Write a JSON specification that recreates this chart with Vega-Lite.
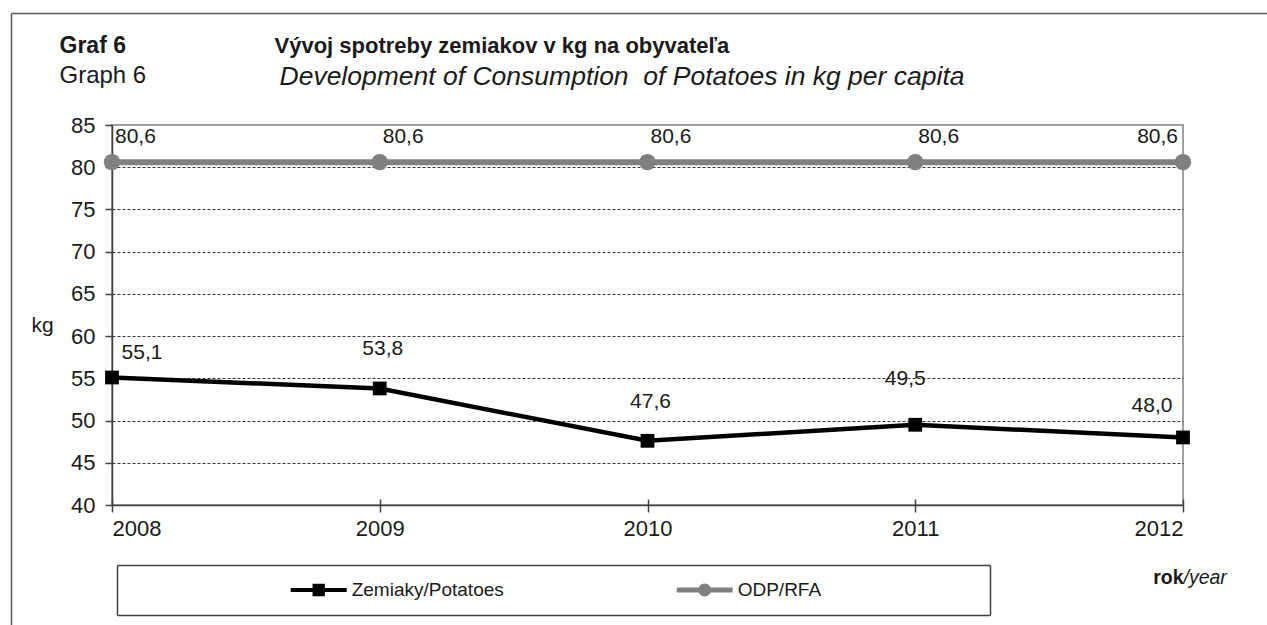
{
  "$schema": "https://vega.github.io/schema/vega-lite/v6.json",
  "width": 1071,
  "height": 380,
  "autosize": {"type": "none"},
  "padding": {"left": 112, "top": 125, "right": 84, "bottom": 120},
  "background": "white",
  "config": {
    "font": "Liberation Sans",
    "view": {"stroke": "#a0a0a0", "strokeWidth": 2},
    "locale": {"number": {"decimal": ",", "thousands": " ", "grouping": [3], "currency": ["", " €"]}},
    "axis": {
      "labelFont": "Liberation Sans",
      "titleFont": "Liberation Sans",
      "labelColor": "#1a1a1a",
      "titleColor": "#1a1a1a",
      "grid": false,
      "labels": false,
      "ticks": false,
      "domain": false,
      "titleAngle": 0,
      "titleAlign": "left",
      "titleBaseline": "alphabetic",
      "titleFontWeight": "normal",
      "titlePadding": 0
    },
    "legend": {"labelFont": "Liberation Sans"}
  },
  "data": {
    "values": [
      {"year": 2008, "series": "Zemiaky/Potatoes", "value": 55.1},
      {"year": 2009, "series": "Zemiaky/Potatoes", "value": 53.8},
      {"year": 2010, "series": "Zemiaky/Potatoes", "value": 47.6},
      {"year": 2011, "series": "Zemiaky/Potatoes", "value": 49.5},
      {"year": 2012, "series": "Zemiaky/Potatoes", "value": 48.0},
      {"year": 2008, "series": "ODP/RFA", "value": 80.6},
      {"year": 2009, "series": "ODP/RFA", "value": 80.6},
      {"year": 2010, "series": "ODP/RFA", "value": 80.6},
      {"year": 2011, "series": "ODP/RFA", "value": 80.6},
      {"year": 2012, "series": "ODP/RFA", "value": 80.6}
    ]
  },
  "layer": [
    {
      "transform": [{"filter": "datum.series == 'ODP/RFA'"}],
      "mark": {"type": "line", "strokeWidth": 6},
      "encoding": {
        "x": {"field": "year", "type": "quantitative", "scale": {"domain": [2008, 2012], "nice": false, "zero": false},
          "axis": {"orient": "bottom", "position": -101, "offset": -492, "values": [2008], "ticks": true, "tickSize": 625, "tickColor": "#595959", "tickWidth": 1.5,
            "title": "Vývoj spotreby zemiakov v kg na obyvateľa", "titleFontWeight": "bold", "titleFontSize": 22, "titleX": 263, "titleY": 39}},
        "y": {"field": "value", "type": "quantitative", "scale": {"domain": [40, 85], "nice": false, "zero": false},
          "axis": {"orient": "left", "position": -112, "offset": -1160, "values": [85], "ticks": true, "tickSize": 1261, "tickColor": "#595959", "tickWidth": 1.5,
            "title": "Graph 6", "titleFontSize": 24, "titleX": -1213, "titleY": 69}},
        "color": {"field": "series", "type": "nominal",
          "scale": {"domain": ["Zemiaky/Potatoes", "ODP/RFA"], "range": ["#000000", "#808080"]},
          "legend": {
            "orient": "none", "legendX": 178.7, "legendY": 437, "direction": "horizontal", "title": null,
            "padding": 0, "columnPadding": 172, "labelFontSize": 19, "labelColor": "#1a1a1a", "labelOffset": 5,
            "symbolSize": 3136, "symbolStrokeWidth": 0, "labelLimit": 400,
            "encode": {"symbols": {"update": {
              "shape": {"signal": "datum.value == 'ODP/RFA' ? 'M-1,-0.09L1,-0.09L1,0.09L-1,0.09Z M-0.23,0A0.23,0.23 0 1,1 0.23,0A0.23,0.23 0 1,1 -0.23,0Z' : 'M-1,-0.075L1,-0.075L1,0.075L-1,0.075Z M-0.22,-0.22L0.22,-0.22L0.22,0.22L-0.22,0.22Z'"},
              "fill": {"signal": "datum.value == 'ODP/RFA' ? '#808080' : '#000000'"},
              "fillOpacity": {"value": 1},
              "opacity": {"value": 1},
              "stroke": {"value": "transparent"},
              "size": {"value": 3136}
            }}}
          }}
      }
    },
    {
      "transform": [{"filter": "datum.series == 'ODP/RFA'"}],
      "mark": {"type": "point", "shape": "circle", "filled": true, "size": 270, "opacity": 1},
      "encoding": {
        "x": {"field": "year", "type": "quantitative", "scale": {"domain": [2008, 2012], "nice": false, "zero": false},
          "axis": {"orient": "bottom", "offset": 60, "values": [2008.01867, 2011.27918], "ticks": true, "tickSize": 50, "tickColor": "#404040", "tickWidth": 1.5,
            "title": "Development of Consumption\u00a0 of Potatoes in kg per capita", "titleFontStyle": "italic", "titleFontSize": 26.5, "titleX": 167, "titleY": -481}},
        "y": {"field": "value", "type": "quantitative", "scale": {"domain": [40, 85], "nice": false, "zero": false},
          "axis": {"orient": "left", "position": 440, "offset": -878, "values": [85, 79.0789], "ticks": true, "tickSize": 873, "tickColor": "#404040", "tickWidth": 1.5, "title": null}},
        "color": {"field": "series", "type": "nominal", "scale": {"domain": ["Zemiaky/Potatoes", "ODP/RFA"], "range": ["#000000", "#808080"]}}
      }
    },
    {
      "transform": [{"filter": "datum.series == 'Zemiaky/Potatoes'"}],
      "mark": {"type": "line", "strokeWidth": 4.5},
      "encoding": {
        "x": {"field": "year", "type": "quantitative", "scale": {"domain": [2008, 2012], "nice": false, "zero": false},
          "axis": {"orient": "bottom", "values": [2008, 2009, 2010, 2011, 2012], "format": "d", "labels": true, "labelFontSize": 22, "labelPadding": 6,
            "ticks": true, "tickSize": 7, "tickColor": "#404040", "tickWidth": 1.5, "domain": true, "domainColor": "#404040", "domainWidth": 1.5,
            "title": "rok", "titleFontWeight": "bold", "titleFontSize": 19.5, "titleX": 1071, "titleY": 78, "titleAlign": "right"}},
        "y": {"field": "value", "type": "quantitative", "scale": {"domain": [40, 85], "nice": false, "zero": false},
          "axis": {"orient": "left", "values": [40, 45, 50, 55, 60, 65, 70, 75, 80, 85], "labels": true, "labelFontSize": 22, "labelPadding": 10,
            "ticks": true, "tickSize": 7, "tickColor": "#404040", "tickWidth": 1.5, "domain": true, "domainColor": "#404040", "domainWidth": 1.5,
            "title": "kg", "titleFontSize": 21, "titleX": -70, "titleY": 200, "titleAlign": "center", "titleBaseline": "middle"}},
        "color": {"field": "series", "type": "nominal", "scale": {"domain": ["Zemiaky/Potatoes", "ODP/RFA"], "range": ["#000000", "#808080"]}}
      }
    },
    {
      "transform": [{"filter": "datum.series == 'Zemiaky/Potatoes'"}],
      "mark": {"type": "point", "shape": "square", "filled": true, "size": 190, "opacity": 1},
      "encoding": {
        "x": {"field": "year", "type": "quantitative", "scale": {"domain": [2008, 2012], "nice": false, "zero": false},
          "axis": {"orient": "top", "offset": -380, "values": [2008, 2009, 2010, 2011, 2012], "ticks": true, "tickSize": 6, "tickColor": "#404040", "tickWidth": 1.5,
            "title": "/year", "titleFontStyle": "italic", "titleFontSize": 19.5, "titleX": 1071, "titleY": 78, "titleAlign": "left"}},
        "y": {"field": "value", "type": "quantitative", "scale": {"domain": [40, 85], "nice": false, "zero": false},
          "axis": {"orient": "left", "values": [45, 50, 55, 60, 65, 70, 75, 80], "grid": true, "gridColor": "#333333", "gridDash": [3, 2], "gridWidth": 1,
            "title": "Graf 6", "titleFontWeight": "bold", "titleFontSize": 23, "titleX": -53, "titleY": -73}},
        "color": {"field": "series", "type": "nominal", "scale": {"domain": ["Zemiaky/Potatoes", "ODP/RFA"], "range": ["#000000", "#808080"]}}
      }
    },
    {
      "transform": [{"filter": "datum.series == 'Zemiaky/Potatoes'"}],
      "mark": {"type": "text", "fontSize": 21, "fill": "#1a1a1a", "baseline": "middle", "align": "center",
        "dx": {"expr": "datum.year == 2008 ? 30 : datum.year == 2012 ? -31 : datum.year == 2011 ? -10 : 3"},
        "dy": {"expr": "datum.year == 2008 ? -24 : datum.year == 2012 ? -31 : datum.year == 2011 ? -46 : -39"}},
      "encoding": {
        "x": {"field": "year", "type": "quantitative", "axis": null},
        "y": {"field": "value", "type": "quantitative", "axis": null},
        "text": {"field": "value", "type": "quantitative", "format": ".1f"}
      }
    },
    {
      "transform": [{"filter": "datum.series == 'ODP/RFA'"}],
      "mark": {"type": "text", "fontSize": 21, "fill": "#1a1a1a", "baseline": "middle",
        "align": {"expr": "datum.year == 2012 ? 'right' : 'left'"},
        "dx": {"expr": "datum.year == 2012 ? -5 : 3"},
        "dy": -25},
      "encoding": {
        "x": {"field": "year", "type": "quantitative", "axis": null},
        "y": {"field": "value", "type": "quantitative", "axis": null},
        "text": {"field": "value", "type": "quantitative", "format": ".1f"}
      }
    }
  ],
  "resolve": {"axis": {"x": "independent", "y": "independent"}}
}
